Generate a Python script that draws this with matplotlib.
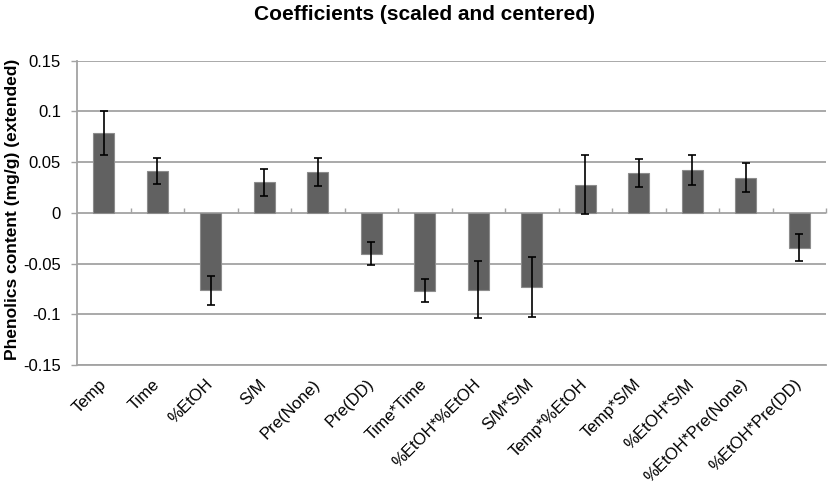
import numpy as np
import matplotlib
matplotlib.use("Agg")
import matplotlib.pyplot as plt

plt.rcParams['font.family'] = ['Liberation Sans', 'DejaVu Sans']

terms = ["Temp", "Time", "%EtOH", "S/M", "Pre(None)", "Pre(DD)", "Time*Time",
         "%EtOH*%EtOH", "S/M*S/M", "Temp*%EtOH", "Temp*S/M", "%EtOH*S/M",
         "%EtOH*Pre(None)", "%EtOH*Pre(DD)"]
coef = [0.0786, 0.0414, -0.0763, 0.0300, 0.0404, -0.0404, -0.0766,
        -0.0756, -0.0733, 0.0279, 0.0391, 0.0421, 0.0348, -0.0342]
err = [0.0220, 0.0130, 0.0141, 0.0137, 0.0136, 0.0113, 0.0112,
       0.0285, 0.0295, 0.0288, 0.0135, 0.0146, 0.0141, 0.0130]
yticks = [-0.15, -0.1, -0.05, 0, 0.05, 0.1, 0.15]
ytick_labels = ["-0.15", "-0.1", "-0.05", "0", "0.05", "0.1", "0.15"]

grid_col = "#a3a3a3"

fig = plt.figure(figsize=(8.29, 4.87), dpi=100)
ax = fig.add_axes([0.0929, 0.2505, 0.9035, 0.6249])

x = np.arange(len(terms))
ax.bar(x, coef, width=0.39, color="#616161", edgecolor="#8c8c8c", linewidth=0.8, zorder=3)
ax.errorbar(x, coef, yerr=err, fmt="none", ecolor="black", elinewidth=1.2,
            capsize=3.2, capthick=1.2, zorder=4)

ax.set_xlim(-0.5, len(terms) - 0.5)
ax.set_ylim(-0.15, 0.15)
ax.set_yticks(yticks)
ax.set_yticklabels(ytick_labels, fontsize=12)
ax.yaxis.grid(True, color=grid_col, linewidth=1.3, zorder=0)
ax.tick_params(axis="y", direction="out", length=4.5, width=1, color=grid_col, pad=7)

ax.set_xticks(x)
ax.set_xticklabels(terms, rotation=45, ha="right", va="center",
                   rotation_mode="anchor", fontsize=12)
ax.tick_params(axis="x", length=0, pad=12)

for s in ["top", "right"]:
    ax.spines[s].set_visible(False)
ax.spines["left"].set_color(grid_col)
ax.spines["left"].set_linewidth(1.3)
ax.spines["bottom"].set_color(grid_col)
ax.spines["bottom"].set_linewidth(1.3)

# category axis crosses at zero, ticks between categories
zero_ax = ax.secondary_xaxis(0.5)
zero_ax.set_xticks(np.arange(len(terms)) + 0.5)
zero_ax.set_xticklabels([])
zero_ax.tick_params(direction="out", length=3.5, width=1, color=grid_col)
for sp in zero_ax.spines.values():
    sp.set_visible(False)

ax.set_ylabel("Phenolics content (mg/g) (extended)", fontsize=12.5,
              fontweight="bold", va="center")
ax.yaxis.set_label_coords(-0.086, 0.51)
fig.suptitle("Coefficients (scaled and centered)", fontsize=15,
             fontweight="bold", y=0.99, x=0.512)

fig.savefig("out.png", dpi=100)
